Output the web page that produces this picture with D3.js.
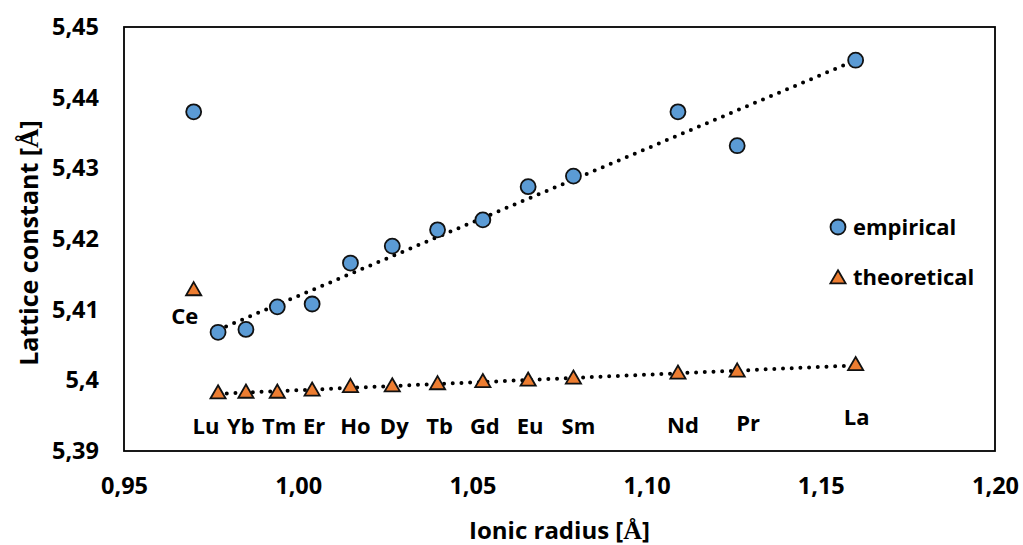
<html>
<head>
<meta charset="utf-8">
<title>Lattice constant vs ionic radius</title>
<style>
  body { margin: 0; background: #fff; }
  text { font-family: "Open Sans", Lato, sans-serif; font-weight: bold; fill: #000; }
</style>
</head>
<body>
<script src="https://cdn.jsdelivr.net/npm/d3@7/dist/d3.min.js"></script>
<script>

// data
var elements    = ["Ce", "Lu", "Yb", "Tm", "Er", "Ho", "Dy", "Tb", "Gd", "Eu", "Sm", "Nd", "Pr", "La"];
var ionicRadius = [0.970, 0.977, 0.985, 0.994, 1.004, 1.015, 1.027, 1.040, 1.053, 1.066, 1.079, 1.109, 1.126, 1.160];
var empirical   = [5.4380, 5.4068, 5.4072, 5.4104, 5.4108, 5.4166, 5.4190, 5.4213, 5.4227, 5.4274, 5.4289, 5.4380, 5.4332, 5.4453];
var theoretical = [5.4128, 5.3982, 5.3983, 5.3983, 5.3986, 5.3991, 5.3992, 5.3995, 5.3998, 5.4000, 5.4003, 5.4010, 5.4013, 5.4022];
var xTicks = [0.95, 1.00, 1.05, 1.10, 1.15, 1.20];
var yTicks = [5.39, 5.40, 5.41, 5.42, 5.43, 5.44, 5.45];
var seriesNames = ["empirical", "theoretical"];

var width  = 1023;
var height = 545;
var margin = {left: 124, right: 28, top: 27, bottom: 94};

var blue   = "#5B9BD5";
var orange = "#ED7D31";

// labels were dragged by hand in the original, small horizontal nudges (px)
var labelNudge = {Ce: -9, Lu: -12, Yb: -5, Ho: 5, Sm: 5, Nd: 5, Pr: 11, La: 1};

var svg = d3.select("body")
			.append("svg")
			.attr("width", width)
			.attr("height", height);

var x = d3.scaleLinear()
		.domain([0.95, 1.20])
		.range([margin.left, width - margin.right]);

var y = d3.scaleLinear()
		.domain([5.39, 5.45])
		.range([height - margin.bottom, margin.top]);

// comma as decimal separator, like Excel in a European locale
function fmtX(v) { return v.toFixed(2).replace(".", ","); }
function fmtY(v) { return String(+v.toFixed(2)).replace(".", ","); }

// axes without ticks, only labels
var xAxis = svg.append("g")
	.attr("transform", "translate(0," + (height - margin.bottom) + ")")
	.call(d3.axisBottom(x).tickValues(xTicks).tickSize(0).tickPadding(26).tickFormat(fmtX));

var yAxis = svg.append("g")
	.attr("transform", "translate(" + margin.left + ",0)")
	.call(d3.axisLeft(y).tickValues(yTicks).tickSize(0).tickPadding(25).tickFormat(fmtY));

svg.selectAll(".domain").remove();
svg.selectAll(".tick text")
	.attr("font-family", "Open Sans")
	.attr("font-weight", "bold")
	.attr("font-size", 23.5)
	.attr("fill", "#000");

// plot border
svg.append("rect")
	.attr("x", x(0.95))
	.attr("y", y(5.45))
	.attr("width", x(1.20) - x(0.95))
	.attr("height", y(5.39) - y(5.45))
	.attr("fill", "none")
	.attr("stroke", "#000")
	.attr("stroke-width", 1.8);

// axis titles
var xTitle = svg.append("text")
	.attr("x", (x(0.95) + x(1.20)) / 2)
	.attr("y", 539)
	.attr("text-anchor", "middle")
	.attr("font-size", 24);
xTitle.append("tspan").text("Ionic radius [");
xTitle.append("tspan").attr("font-family", "Liberation Serif").attr("font-size", 26).text("Å");
xTitle.append("tspan").text("]");

var yTitle = svg.append("text")
	.attr("transform", "translate(38," + ((y(5.39) + y(5.45)) / 2 + 4) + ") rotate(-90)")
	.attr("text-anchor", "middle")
	.attr("font-size", 25);
yTitle.append("tspan").text("Lattice constant [");
yTitle.append("tspan").attr("font-family", "Liberation Serif").attr("font-size", 27).text("Å");
yTitle.append("tspan").text("]");

// linear trend lines (Ce left out)
function trend(xs, ys) {
	var mx = d3.mean(xs), my = d3.mean(ys);
	var sxy = d3.sum(xs, function(v, i) { return (v - mx) * (ys[i] - my); });
	var sxx = d3.sum(xs, function(v) { return (v - mx) * (v - mx); });
	var b = sxy / sxx;
	var x0 = d3.min(xs), x1 = d3.max(xs);
	return [[x0, my + b * (x0 - mx)], [x1, my + b * (x1 - mx)]];
}

var line = d3.line()
	.x(function(d) { return x(d[0]); })
	.y(function(d) { return y(d[1]); });

[empirical, theoretical].forEach(function(vals) {
	svg.append("path")
		.attr("d", line(trend(ionicRadius.slice(1), vals.slice(1))))
		.attr("fill", "none")
		.attr("stroke", "#000")
		.attr("stroke-width", 4)
		.attr("stroke-linecap", "round")
		.attr("stroke-dasharray", "0 8.7");
});

// markers
var triangle = d3.symbol().type(d3.symbolTriangle).size(100);

svg.selectAll(".emp")
	.data(ionicRadius)
	.enter()
	.append("circle")
	.attr("class", "emp")
	.attr("cx", function(d) { return x(d); })
	.attr("cy", function(d, i) { return y(empirical[i]); })
	.attr("r", 7.5)
	.attr("fill", blue)
	.attr("stroke", "#111")
	.attr("stroke-width", 1.8);

svg.selectAll(".theo")
	.data(ionicRadius)
	.enter()
	.append("path")
	.attr("class", "theo")
	.attr("d", triangle)
	.attr("transform", function(d, i) { return "translate(" + x(d) + "," + (y(theoretical[i]) + 1) + ")"; })
	.attr("fill", orange)
	.attr("stroke", "#111")
	.attr("stroke-width", 1.8);

// element labels under the theoretical points
svg.selectAll(".lbl")
	.data(elements)
	.enter()
	.append("text")
	.attr("class", "lbl")
	.attr("text-anchor", "middle")
	.attr("font-size", 22)
	.attr("x", function(d, i) {
		var n = labelNudge[d] !== undefined ? labelNudge[d] : 2;
		return x(ionicRadius[i]) + n;
	})
	.attr("y", function(d, i) {
		var py = y(theoretical[i]);
		if (i == 0) return py + 34;
		return Math.min(y(5.3924), py + 60);
	})
	.text(function(d) { return d; });

// legend
var legend = svg.append("g");
legend.append("circle")
	.attr("cx", 838).attr("cy", 227).attr("r", 7.5)
	.attr("fill", blue).attr("stroke", "#111").attr("stroke-width", 1.8);
legend.append("path")
	.attr("d", triangle)
	.attr("transform", "translate(838,279)")
	.attr("fill", orange).attr("stroke", "#111").attr("stroke-width", 1.8);
legend.selectAll(".leg")
	.data(seriesNames)
	.enter()
	.append("text")
	.attr("class", "leg")
	.attr("x", 853)
	.attr("y", function(d, i) { return 235 + i * 50; })
	.attr("font-size", 22)
	.text(function(d) { return d; });

</script>
</body>
</html>
